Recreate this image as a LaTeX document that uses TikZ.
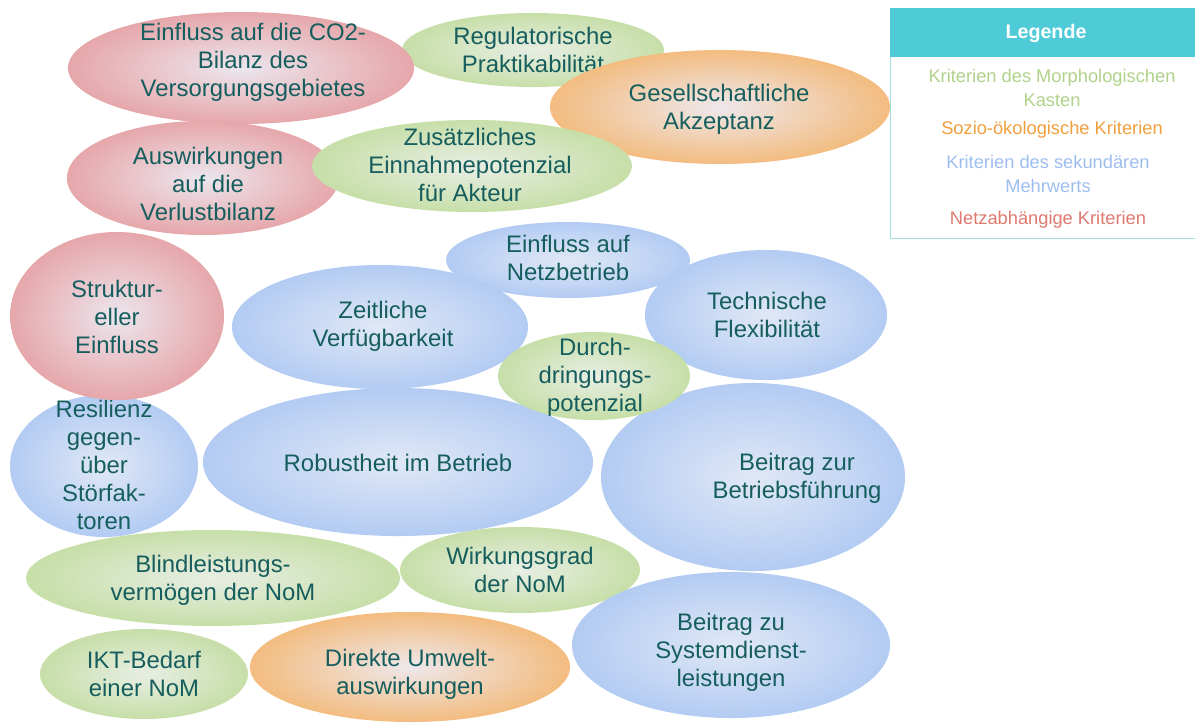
\documentclass[tikz,border=0pt]{standalone}
\usepackage{fontspec}
\setmainfont{Liberation Sans}
\usetikzlibrary{shapes.geometric}
\definecolor{schrift}{RGB}{22,94,94}
\definecolor{netzaussen}{RGB}{226,124,124}
\definecolor{netzinnen}{RGB}{236,230,238}
\definecolor{morphaussen}{RGB}{176,212,128}
\definecolor{morphinnen}{RGB}{232,238,228}
\definecolor{sozioaussen}{RGB}{246,158,54}
\definecolor{soziominnen}{RGB}{238,232,236}
\definecolor{mehraussen}{RGB}{148,184,240}
\definecolor{mehrinnen}{RGB}{224,232,246}
\definecolor{legkopf}{RGB}{78,203,215}
\definecolor{legrand}{RGB}{160,222,228}
\definecolor{legmorph}{RGB}{176,210,138}
\definecolor{legsozio}{RGB}{240,160,62}
\definecolor{legmehr}{RGB}{158,190,240}
\definecolor{legnetz}{RGB}{224,122,112}
\pgfdeclareradialshading{netzfarbe}{\pgfpoint{0bp}{0bp}}%
  {color(0bp)=(netzinnen); color(42bp)=(netzaussen); color(50bp)=(netzaussen)}
\pgfdeclareradialshading{morphfarbe}{\pgfpoint{0bp}{0bp}}%
  {color(0bp)=(morphinnen); color(42bp)=(morphaussen); color(50bp)=(morphaussen)}
\pgfdeclareradialshading{soziofarbe}{\pgfpoint{0bp}{0bp}}%
  {color(0bp)=(soziominnen); color(42bp)=(sozioaussen); color(50bp)=(sozioaussen)}
\pgfdeclareradialshading{mehrfarbe}{\pgfpoint{0bp}{0bp}}%
  {color(0bp)=(mehrinnen); color(42bp)=(mehraussen); color(50bp)=(mehraussen)}

\begin{document}
\begin{tikzpicture}[x=0.025cm, y=-0.025cm,
    blase/.style={ellipse, inner sep=0pt, outer sep=0pt, shade},
    netz/.style={blase, shading=netzfarbe},
    morph/.style={blase, shading=morphfarbe},
    sozio/.style={blase, shading=soziofarbe},
    mehr/.style={blase, shading=mehrfarbe},
    txt/.style={text=schrift, align=center, inner sep=0pt,
                font=\fontsize{17}{20}\selectfont},
    leg/.style={align=center, inner sep=0pt,
                font=\fontsize{13}{17}\selectfont}]
  \useasboundingbox (0,0) rectangle (1195,724);

  % obere Reihe
  \node[morph, minimum width=6.55cm, minimum height=1.85cm] (reg) at (533,50) {};
  \node[txt] (regt) at (533,50) {Regulatorische\\Praktikabilität};
  \node[netz, minimum width=8.65cm, minimum height=2.8cm] (co2) at (241,68) {};
  \node[txt] (co2t) at (253,62) {Einfluss auf die CO2-\\Bilanz des\\Versorgungsgebietes};
  \node[sozio, minimum width=8.5cm, minimum height=2.85cm] (ges) at (720,107) {};
  \node[txt] (gest) at (719,109) {Gesellschaftliche\\Akzeptanz};
  \node[netz, minimum width=6.8cm, minimum height=2.85cm] (verl) at (203,178) {};
  \node[txt] (verlt) at (208,184) {Auswirkungen\\auf die\\Verlustbilanz};
  \node[morph, minimum width=8cm, minimum height=2.3cm] (einn) at (472,166) {};
  \node[txt] (einnt) at (470,165) {Zusätzliches\\Einnahmepotenzial\\für Akteur};

  % mittlere Reihe
  \node[mehr, minimum width=6.1cm, minimum height=1.9cm] (nb) at (568,260) {};
  \node[txt] (nbt) at (568,258) {Einfluss auf\\Netzbetrieb};
  \node[mehr, minimum width=6.05cm, minimum height=3.25cm] (flex) at (766,315) {};
  \node[txt] (flext) at (767,315) {Technische\\Flexibilität};
  \node[mehr, minimum width=4.7cm, minimum height=3.55cm] (res) at (104,466) {};
  \node[txt] (rest) at (104,465) {Resilienz\\gegen-\\über\\Störfak-\\toren};
  \node[netz, minimum width=5.35cm, minimum height=4.2cm] (str) at (117,316) {};
  \node[txt] (strt) at (117,317) {Struktur-\\eller\\Einfluss};
  \node[mehr, minimum width=7.4cm, minimum height=3.1cm] (zeit) at (380,327) {};
  \node[txt] (zeitt) at (383,326) {Zeitliche\\Verfügbarkeit};
  \node[mehr, minimum width=9.75cm, minimum height=3.7cm] (rob) at (398,462) {};
  \node[txt] (robt) at (398,463) {Robustheit im Betrieb};
  \node[mehr, minimum width=7.6cm, minimum height=4.7cm] (bf) at (753,477) {};
  \node[txt] (bft) at (797,478) {Beitrag zur\\Betriebsführung};
  \node[morph, minimum width=4.8cm, minimum height=2.2cm] (durch) at (594,376) {};
  \node[txt] (durcht) at (595,377) {Durch-\\dringungs-\\potenzial};

  % untere Reihe
  \node[morph, minimum width=9.35cm, minimum height=2.4cm] (blind) at (213,578) {};
  \node[txt] (blindt) at (213,580) {Blindleistungs-\\vermögen der NoM};
  \node[morph, minimum width=6cm, minimum height=2.15cm] (wirk) at (520,570) {};
  \node[txt] (wirkt) at (520,570) {Wirkungsgrad\\der NoM};
  \node[mehr, minimum width=7.95cm, minimum height=3.65cm] (sdl) at (731,645) {};
  \node[txt] (sdlt) at (731,652) {Beitrag zu\\Systemdienst-\\leistungen};
  \node[morph, minimum width=5.2cm, minimum height=2.25cm] (ikt) at (144,674) {};
  \node[txt] (iktt) at (144,674) {IKT-Bedarf\\einer NoM};
  \node[sozio, minimum width=8cm, minimum height=2.75cm] (umw) at (410,667) {};
  \node[txt] (umwt) at (410,674) {Direkte Umwelt-\\auswirkungen};

  % Legende
  \draw[legrand, fill=white] (890,8) rectangle (1195,238);
  \fill[legkopf] (890,8) rectangle (1195,57);
  \node[leg, text=white, font=\fontsize{14}{17}\selectfont\bfseries] (legt) at (1046,33) {Legende};
  \node[leg, text=legmorph] (lmorph) at (1052,88) {Kriterien des Morphologischen\\Kasten};
  \node[leg, text=legsozio] (lsozio) at (1052,130) {Sozio-ökologische Kriterien};
  \node[leg, text=legmehr] (lmehr) at (1048,174) {Kriterien des sekundären\\Mehrwerts};
  \node[leg, text=legnetz] (lnetz) at (1048,220) {Netzabhängige Kriterien};
\end{tikzpicture}
\end{document}
